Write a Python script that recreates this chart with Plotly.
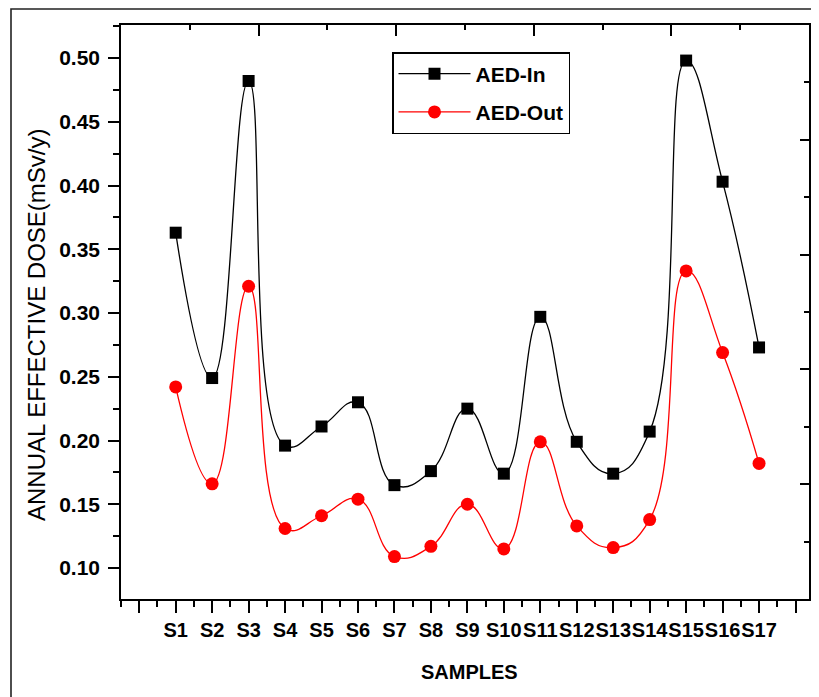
import plotly.graph_objects as go

categories = ["S1", "S2", "S3", "S4", "S5", "S6", "S7", "S8", "S9", "S10",
              "S11", "S12", "S13", "S14", "S15", "S16", "S17"]
aed_in = [0.363, 0.249, 0.482, 0.196, 0.211, 0.230, 0.165, 0.176, 0.225, 0.174,
          0.297, 0.199, 0.174, 0.207, 0.498, 0.403, 0.273]
aed_out = [0.242, 0.166, 0.321, 0.131, 0.141, 0.154, 0.109, 0.117, 0.150, 0.115,
           0.199, 0.133, 0.116, 0.138, 0.333, 0.269, 0.182]

# The page body has an 8px margin, so the figure is laid out in page pixels
# shifted by OFF.
OFF = 8
W, H = 819 - OFF, 697 - OFF
PL, PR, PT, PB = 121, 809, 25, 599          # plot box in page pixels
ML, MT = PL - OFF, PT - OFF
MR, MB = W - (PR - OFF), H - (PB - OFF)
PW, PH = W - ML - MR, H - MT - MB

def px_x(p):
    return (p - OFF - ML) / PW

def px_y(p):
    return (H - MB - (p - OFF)) / PH

xpos = list(range(1, len(categories) + 1))
FONT = "Arial, Liberation Sans, sans-serif"

fig = go.Figure()
fig.add_trace(go.Scatter(
    x=xpos, y=aed_in, name="AED-In", mode="lines+markers",
    line=dict(color="black", width=1.3, shape="spline", smoothing=1.3),
    marker=dict(symbol="square", size=12, color="black"),
    legendgroup="a"))
fig.add_trace(go.Scatter(
    x=xpos, y=aed_out, name="AED-Out", mode="lines+markers",
    line=dict(color="#ff0000", width=1.3, shape="spline", smoothing=1.3),
    marker=dict(symbol="circle", size=13, color="#ff0000"),
    legendgroup="b"))

n = len(categories)
major_x = list(range(0, n + 2))
minor_x = [v + 0.5 for v in range(-1, n + 1)]

fig.update_layout(
    template="none",
    width=W, height=H,
    margin=dict(l=ML, r=MR, t=MT, b=MB, pad=0, autoexpand=False),
    paper_bgcolor="white", plot_bgcolor="white",
    font=dict(family=FONT, color="black"),
    showlegend=True,
    legend=dict(
        x=px_x(392), y=px_y(52), xanchor="left", yanchor="top",
        bordercolor="black", borderwidth=1.5, bgcolor="white",
        font=dict(family=FONT, size=21, color="black", weight="bold"),
        itemwidth=72, tracegroupgap=8, traceorder="grouped",
    ),
    xaxis=dict(
        range=[-0.5, n + 1.37], showgrid=False, zeroline=False,
        automargin=False, mirror=True,
        showline=True, linecolor="black", linewidth=1.6,
        ticks="outside", ticklen=12, tickwidth=1.5, tickcolor="black",
        tickvals=major_x, ticktext=[""] + categories + [""], tickangle=0,
        tickfont=dict(family=FONT, size=20, color="black", weight="bold"),
        minor=dict(tickvals=minor_x, ticks="outside", ticklen=6,
                   tickwidth=1.5, tickcolor="black"),
    ),
    yaxis=dict(
        range=[0.0757, 0.5259], showgrid=False, zeroline=False,
        automargin=False, mirror=True,
        showline=True, linecolor="black", linewidth=1.6,
        ticks="outside", ticklen=11, tickwidth=1.5, tickcolor="black",
        tick0=0.10, dtick=0.05, tickformat=".2f",
        tickfont=dict(family=FONT, size=21, color="black", weight="bold"),
        minor=dict(tick0=0.075, dtick=0.05, ticks="outside", ticklen=6,
                   tickwidth=1.5, tickcolor="black"),
        ticklabelstandoff=4,
    ),
    xaxis2=dict(
        overlaying="x", side="top", anchor="y2", range=[0, 10],
        automargin=False,
        showgrid=False, zeroline=False, showline=True, linecolor="black",
        linewidth=1.6, ticks="inside", ticklen=11, tickwidth=1.5,
        tickcolor="black", tick0=0, dtick=2, showticklabels=False,
        minor=dict(tick0=1, dtick=2, ticks="inside", ticklen=5,
                   tickwidth=1.5, tickcolor="black"),
    ),
    yaxis2=dict(
        overlaying="y", side="right", anchor="x2", range=[0, 10],
        automargin=False,
        showgrid=False, zeroline=False, showline=True, linecolor="black",
        linewidth=1.6, ticks="inside", ticklen=9, tickwidth=1.5,
        tickcolor="black", tick0=0, dtick=2, showticklabels=False,
        minor=dict(tick0=1, dtick=2, ticks="inside", ticklen=5,
                   tickwidth=1.5, tickcolor="black"),
    ),
    shapes=[dict(type="rect", xref="paper", yref="paper",
                 x0=px_x(11), x1=px_x(840), y0=px_y(720), y1=px_y(9),
                 line=dict(color="#222222", width=1.6), layer="below")],
    annotations=[
        dict(text="SAMPLES", xref="paper", yref="paper",
             x=px_x(469), y=px_y(672), xanchor="center", yanchor="middle",
             showarrow=False,
             font=dict(family=FONT, size=20, color="black", weight="bold")),
        dict(text="ANNUAL EFFECTIVE DOSE(mSv/y)", xref="paper", yref="paper",
             x=px_x(37), y=px_y(325), xanchor="center", yanchor="middle",
             textangle=-90, showarrow=False,
             font=dict(family=FONT, size=24, color="black")),
    ],
)

# invisible placeholder trace so the overlay (frame) axes are drawn
fig.add_trace(go.Scatter(x=[None], y=[None], xaxis="x2", yaxis="y2",
                         showlegend=False, hoverinfo="skip"))

fig.write_html("out.html")
